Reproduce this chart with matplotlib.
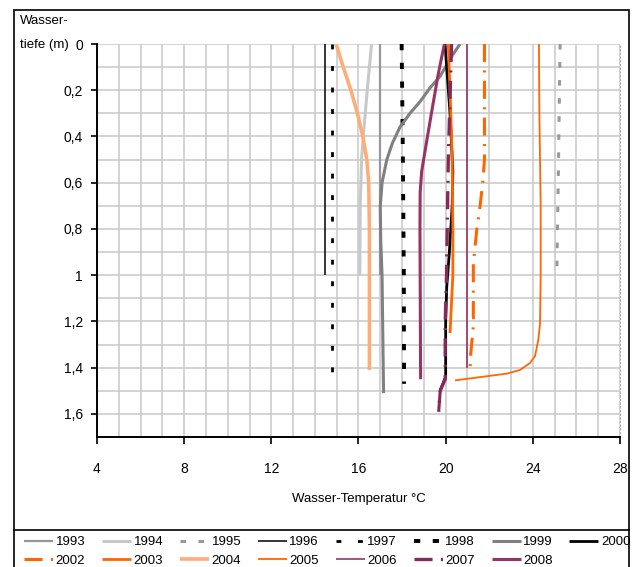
import matplotlib
matplotlib.use("Agg")
import matplotlib.pyplot as plt
from matplotlib.lines import Line2D
from matplotlib.patches import Rectangle

plt.rcParams['font.family'] = ['Liberation Sans Narrow', 'Liberation Sans', 'DejaVu Sans']
plt.rcParams['lines.scale_dashes'] = False

# depth profiles: (depth in m, water temperature in degC)
d_1993 = [0, 1.0]
t_1993 = [16.99, 16.99]
d_1994 = [0, 0.2, 0.4, 0.5, 0.7, 1.0]
t_1994 = [16.6, 16.4, 16.22, 16.14, 16.08, 16.06]
d_1995 = [0, 0.5, 1.0]
t_1995 = [25.25, 25.18, 25.1]
d_1996 = [0, 1.0]
t_1996 = [14.46, 14.46]
d_1997 = [0, 1.47]
t_1997 = [14.8, 14.8]
d_1998 = [0, 0.43, 1.0, 1.47]
t_1998 = [17.98, 18.03, 18.08, 18.09]
d_1999 = [0, 0.05, 0.14, 0.19, 0.25, 0.30, 0.36, 0.43, 0.5, 0.6, 0.7, 0.85, 1.0, 1.51]
t_1999 = [20.66, 20.3, 19.74, 19.28, 18.82, 18.36, 17.9, 17.55, 17.3, 17.08, 17.0, 17.02, 17.08, 17.15]
d_2000 = [0, 0.3, 0.55, 0.7, 0.9, 1.05, 1.2, 1.44, 1.5]
t_2000 = [19.97, 20.2, 20.33, 20.3, 20.17, 20.05, 20.0, 20.0, 19.74]
d_2002 = [0, 0.5, 0.6, 0.7, 0.8, 0.95, 1.22, 1.34, 1.40]
t_2002 = [21.78, 21.78, 21.7, 21.58, 21.43, 21.27, 21.27, 21.15, 21.12]
d_2003 = [0, 0.25, 0.5, 0.8, 1.0, 1.25]
t_2003 = [20.12, 20.22, 20.3, 20.33, 20.33, 20.2]
d_2004 = [0, 0.1, 0.2, 0.3, 0.4, 0.5, 0.6, 0.8, 1.0, 1.2, 1.41]
t_2004 = [14.97, 15.3, 15.65, 15.95, 16.2, 16.38, 16.47, 16.5, 16.5, 16.5, 16.5]
d_2005 = [0, 0.3, 0.7, 1.0, 1.21, 1.28, 1.35, 1.38, 1.41, 1.426, 1.455]
t_2005 = [24.28, 24.3, 24.36, 24.36, 24.33, 24.25, 24.1, 23.87, 23.41, 22.8, 20.43]
d_2006 = [0, 1.40]
t_2006 = [20.97, 20.97]
d_2007 = [0, 0.5, 1.0, 1.2, 1.45, 1.5, 1.59]
t_2007 = [20.27, 20.12, 20.04, 19.98, 19.98, 19.75, 19.68]
d_2008 = [0, 0.13, 0.27, 0.42, 0.55, 0.64, 0.8, 1.0, 1.45]
t_2008 = [19.94, 19.66, 19.4, 19.13, 18.9, 18.83, 18.82, 18.83, 18.85]

years = ['1993', '1994', '1995', '1996', '1997', '1998', '1999', '2000',
         '2002', '2003', '2004', '2005', '2006', '2007', '2008']
depths = [d_1993, d_1994, d_1995, d_1996, d_1997, d_1998, d_1999, d_2000,
          d_2002, d_2003, d_2004, d_2005, d_2006, d_2007, d_2008]
temps = [t_1993, t_1994, t_1995, t_1996, t_1997, t_1998, t_1999, t_2000,
         t_2002, t_2003, t_2004, t_2005, t_2006, t_2007, t_2008]

x_ticks = [4, 8, 12, 16, 20, 24, 28]
y_ticks = [0, 0.2, 0.4, 0.6, 0.8, 1.0, 1.2, 1.4, 1.6]
y_labels = ['0', '0,2', '0,4', '0,6', '0,8', '1', '1,2', '1,4', '1,6']

orange = '#ff6600'
purple = '#993366'
styles = {
    '1993': dict(color='#969696', lw=1.6),
    '1994': dict(color='#c8c8c8', lw=2.2),
    '1995': dict(color='#999999', lw=2.2, ls=(0, (4, 9))),
    '1996': dict(color='black', lw=1.1),
    '1997': dict(color='black', lw=2.0, ls=(0, (3.5, 12))),
    '1998': dict(color='black', lw=2.8, ls=(0, (4.5, 9))),
    '1999': dict(color='#808080', lw=2.2),
    '2000': dict(color='black', lw=2.0),
    '2002': dict(color=orange, lw=2.2, ls=(0, (13, 6, 1.5, 6))),
    '2003': dict(color=orange, lw=2.0),
    '2004': dict(color='#ffad78', lw=2.6),
    '2005': dict(color=orange, lw=1.3),
    '2006': dict(color=purple, lw=1.2),
    '2007': dict(color='#862a5c', lw=2.4, ls=(0, (13, 6, 1.5, 6))),
    '2008': dict(color=purple, lw=2.2),
}

fig = plt.figure(figsize=(6.38, 5.67), dpi=100)
ax = fig.add_axes([97 / 638, 1 - 437 / 567, (620 - 97) / 638, (437 - 44) / 567])

handles = {}
for year, d, t in zip(years, depths, temps):
    line, = ax.plot(t, d, label=year, solid_capstyle='butt', **styles[year])
    handles[year] = line

# the deepest stretch of 2007 shows up as a solid line
ax.plot(t_2007[-2:], d_2007[-2:], color='#862a5c', lw=2.2, solid_capstyle='butt')

ax.set_xlim(4, 28)
ax.set_ylim(1.7, 0)
ax.set_xticks(x_ticks)
ax.set_xticks(range(4, 29), minor=True)
ax.set_yticks(y_ticks)
ax.set_yticklabels(y_labels)
ax.set_yticks([i / 10 for i in range(0, 18)], minor=True)
ax.grid(True, which='both', color='#c8c8c8', lw=1.1)
ax.set_axisbelow(True)
ax.tick_params(axis='both', which='minor', length=0)
ax.tick_params(axis='x', which='major', length=5, width=1.2, pad=13, labelsize=10)
ax.tick_params(axis='y', which='major', length=4, width=1.2, pad=6, labelsize=10)
ax.spines['top'].set_visible(False)
ax.spines['right'].set_linestyle(':')
ax.spines['right'].set_color('#b0b0b0')
ax.spines['left'].set_linewidth(1.4)
ax.spines['bottom'].set_linewidth(1.4)
ax.set_xlabel('Wasser-Temperatur °C', fontsize=9.5, labelpad=12)

fig.text(20 / 638, 1 - 15 / 567, 'Wasser-\ntiefe (m)', fontsize=9.5,
         ha='left', va='top', linespacing=2.3)

# outer frame and legend separator
fig.patches.append(Rectangle((14 / 638, -0.05), 615 / 638, 1.05 - 10 / 567,
                             transform=fig.transFigure, fill=False,
                             edgecolor='black', lw=1.2))
fig.add_artist(Line2D([14 / 638, 629 / 638], [1 - 530 / 567] * 2,
                      transform=fig.transFigure, color='black', lw=1.2))

order = ['1993', '2002', '1994', '2003', '1995', '2004', '1996', '2005',
         '1997', '2006', '1998', '2007', '1999', '2008', '2000']
fig.legend([handles[y] for y in order], order, loc='upper left',
           bbox_to_anchor=(24 / 638, 1 - 536 / 567), ncol=8, frameon=False,
           fontsize=9.5, handlelength=2.2, handletextpad=0.2,
           columnspacing=1.26, labelspacing=0.5, borderpad=0, borderaxespad=0)

fig.savefig('out.png', dpi=100)
